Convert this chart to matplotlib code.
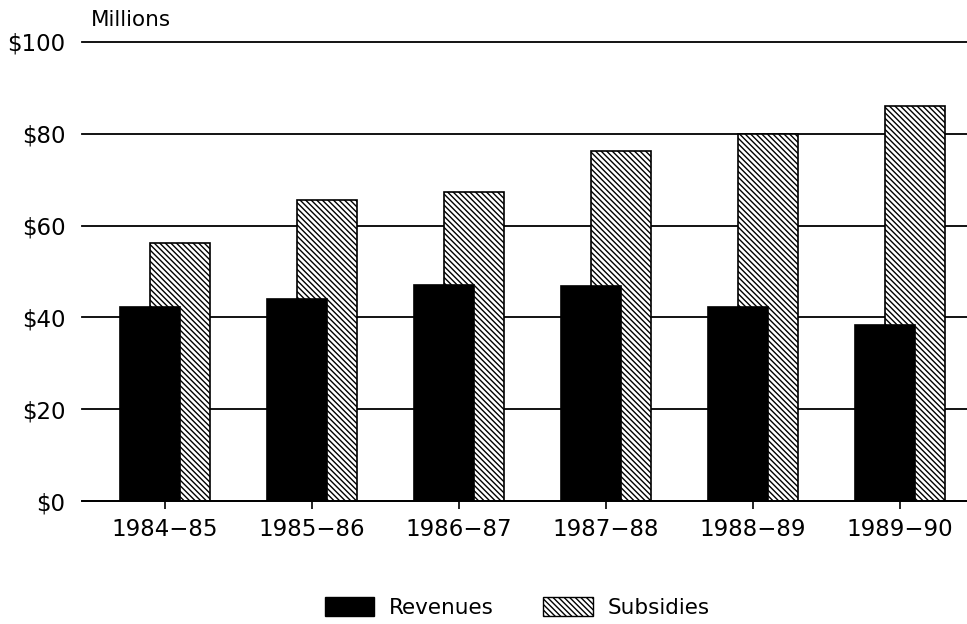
import matplotlib
matplotlib.use("Agg")
import matplotlib.pyplot as plt
from matplotlib.patches import Patch
import numpy as np

years = ["1984−85", "1985−86", "1986−87", "1987−88", "1988−89", "1989−90"]
revenues = [42.3, 44.0, 47.1, 46.8, 42.3, 38.3]
subsidies = [56.2, 65.6, 67.3, 76.3, 79.9, 86.1]
yticks = [0, 20, 40, 60, 80, 100]
ytick_labels = ["$0", "$20", "$40", "$60", "$80", "$100"]

plt.rcParams['font.family'] = ['DejaVu Sans']
plt.rcParams['hatch.linewidth'] = 1.0

fig = plt.figure(figsize=(9.67, 6.24), dpi=100)
ax = fig.add_axes([0.0848, 0.197, 1 - 0.0848, 0.933 - 0.197])

x = np.arange(len(years))
w = 0.41
off = 0.102
hatch = '\\' * 6
ax.bar(x + off, subsidies, width=w, color='white', edgecolor='black',
       hatch=hatch, linewidth=1.2, zorder=2)
ax.bar(x - off, revenues, width=w, color='black', edgecolor='black',
       linewidth=1.2, zorder=3)

ax.set_ylim(0, 100)
ax.set_xlim(-0.565, 5.456)
ax.set_yticks(yticks)
ax.set_yticklabels(ytick_labels, fontsize=16.5)
ax.set_xticks(x)
ax.set_xticklabels(years, fontsize=16.5)
ax.tick_params(axis='y', length=0, pad=12)
ax.tick_params(axis='x', length=6, width=1.2, pad=6, direction='out')
for s in ['left', 'right', 'top']:
    ax.spines[s].set_visible(False)
ax.spines['bottom'].set_linewidth(1.3)
ax.yaxis.grid(True, color='black', linewidth=1.3, zorder=0)
ax.set_axisbelow(True)
for gl in ax.yaxis.get_gridlines():
    gl.set_clip_on(False)

ax.text(0.01, 1.025, "Millions", transform=ax.transAxes, fontsize=15.5,
        ha='left', va='bottom')

handles = [Patch(facecolor='black', edgecolor='black', label='Revenues'),
           Patch(facecolor='white', edgecolor='black', hatch=hatch, label='Subsidies')]
fig.legend(handles=handles, loc='center', bbox_to_anchor=(0.535, 0.027), ncol=2,
           frameon=False, fontsize=15.5, handlelength=2.3, handleheight=1.0,
           handletextpad=0.7, columnspacing=2.3)

fig.savefig("out.png", dpi=100)
